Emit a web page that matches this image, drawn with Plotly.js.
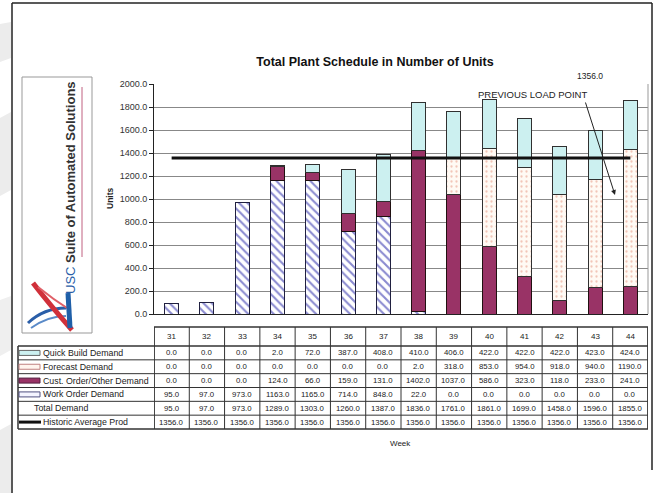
<!DOCTYPE html>
<html>
<head>
<meta charset="utf-8">
<script src="https://cdn.plot.ly/plotly-3.0.1.min.js"></script>
<style>
  html, body { margin: 0; padding: 0; background: #ffffff; }
  #chart { width: 663px; height: 493px; }
</style>
</head>
<body>
<div id="chart"></div>
<script>
// ---------------- data ----------------
const weeks = ['31','32','33','34','35','36','37','38','39','40','41','42','43','44'];
const quickBuild = [0, 0, 0, 2, 72, 387, 408, 410, 406, 422, 422, 422, 423, 424];
const forecast   = [0, 0, 0, 0, 0, 0, 0, 2, 318, 853, 954, 918, 940, 1190];
const custOrder  = [0, 0, 0, 124, 66, 159, 131, 1402, 1037, 586, 323, 118, 233, 241];
const workOrder  = [95, 97, 973, 1163, 1165, 714, 848, 22, 0, 0, 0, 0, 0, 0];
const totalDemand = [95, 97, 973, 1289, 1303, 1260, 1387, 1836, 1761, 1861, 1699, 1458, 1596, 1855];
const historicAvg = [1356, 1356, 1356, 1356, 1356, 1356, 1356, 1356, 1356, 1356, 1356, 1356, 1356, 1356];
const rowLabels = ['Quick Build Demand', 'Forecast Demand', 'Cust. Order/Other Demand', 'Work Order Demand', 'Total Demand', 'Historic Average Prod'];
const yTicks = [0, 200, 400, 600, 800, 1000, 1200, 1400, 1600, 1800, 2000];

// ---------------- geometry helpers ----------------
const L = 154, R = 648, T = 84, B = 314;
const px = v => (v - L) / (R - L);
const py = v => (B - v) / (B - T);
const FONT = 'Liberation Sans, Arial, sans-serif';
const nz = arr => arr.map(v => (v === 0 ? null : v));

const C_QB = '#ccf0f0', C_CO = '#993366', C_WO = '#8a8ad0', C_FC = '#f2c6b8';

const traces = [
  { type: 'bar', name: 'Work Order Demand', x: weeks, y: nz(workOrder),
    marker: { color: '#ffffff', line: { color: '#202040', width: 1 },
      pattern: { shape: '\\', fgcolor: C_WO, bgcolor: '#ffffff', size: 6, solidity: 0.35 } } },
  { type: 'bar', name: 'Cust. Order/Other Demand', x: weeks, y: nz(custOrder),
    marker: { color: C_CO, line: { color: '#201010', width: 1 } } },
  { type: 'bar', name: 'Forecast Demand', x: weeks, y: nz(forecast),
    marker: { color: '#fffaf4', line: { color: '#303030', width: 1 },
      pattern: { shape: '.', fgcolor: C_FC, bgcolor: '#fffaf4', size: 5, solidity: 0.16 } } },
  { type: 'bar', name: 'Quick Build Demand', x: weeks, y: nz(quickBuild),
    marker: { color: C_QB, line: { color: '#303030', width: 1 } } },
  { type: 'scatter', mode: 'lines', name: 'Historic Average Prod', x: weeks, y: historicAvg,
    line: { color: '#111111', width: 3 } }
];

const shapes = [];
const annotations = [];
const ann = o => annotations.push(Object.assign({ showarrow: false, xanchor: 'center', yanchor: 'middle' }, o));

// faint watermark on the far left
const poly = (pts, color) => shapes.push({ type: 'path', xref: 'paper', yref: 'paper', layer: 'below',
  path: 'M' + pts.map(p => px(p[0]).toFixed(4) + ',' + py(p[1]).toFixed(4)).join(' L') + ' Z', fillcolor: color, line: { width: 0 } });
poly([[0, 24], [11, 22], [11, 58], [0, 62]], '#ececec');
poly([[0, 118], [11, 112], [11, 190], [0, 196]], '#ececec');
poly([[0, 300], [11, 296], [11, 350], [0, 356]], '#efefef');
poly([[0, 430], [11, 424], [11, 493], [0, 493]], '#ececec');

// outer frame
shapes.push({ type: 'line', xref: 'paper', yref: 'paper', x0: px(12), x1: px(12), y0: py(3), y1: py(493), line: { color: '#222', width: 1.5 } });
shapes.push({ type: 'line', xref: 'paper', yref: 'paper', x0: px(12), x1: px(652), y0: py(3), y1: py(3), line: { color: '#222', width: 1.5 } });
shapes.push({ type: 'line', xref: 'paper', yref: 'paper', x0: px(652), x1: px(652), y0: py(3), y1: py(470), line: { color: '#222', width: 1.5 } });
// plot area right border
shapes.push({ type: 'line', xref: 'paper', yref: 'paper', x0: 1, x1: 1, y0: 0, y1: 1, line: { color: '#999', width: 1 } });

// ---------------- data table ----------------
const tTop = 327, hBot = 346, tBot = 429, labL = 18;
const rowH = (tBot - hBot) / rowLabels.length;
const rowTop = k => hBot + k * rowH;
const n = weeks.length;
const lineC = '#333';
shapes.push({ type: 'line', xref: 'x', yref: 'paper', x0: -0.5, x1: n - 0.5, y0: py(tTop), y1: py(tTop), line: { color: lineC, width: 1.5 } });
for (let k = 0; k <= rowLabels.length; k++) {
  shapes.push({ type: 'line', xref: 'paper', yref: 'paper', x0: px(labL), x1: 1, y0: py(rowTop(k)), y1: py(rowTop(k)),
    line: { color: lineC, width: (k === 0 || k === rowLabels.length) ? 1.5 : 1 } });
}
for (let i = 0; i <= n; i++) {
  shapes.push({ type: 'line', xref: 'x', yref: 'paper', x0: i - 0.5, x1: i - 0.5, y0: py(tTop), y1: py(tBot),
    line: { color: lineC, width: (i === 0 || i === n) ? 1.8 : 1 } });
}
shapes.push({ type: 'line', xref: 'paper', yref: 'paper', x0: px(labL), x1: px(labL), y0: py(hBot), y1: py(tBot), line: { color: lineC, width: 1.5 } });

weeks.forEach((w, i) => {
  ann({ xref: 'x', yref: 'paper', x: i, y: py((tTop + hBot) / 2), text: w, font: { family: FONT, size: 8, color: '#222' } });
});
const tableRows = [quickBuild, forecast, custOrder, workOrder, totalDemand, historicAvg];
tableRows.forEach((row, k) => {
  row.forEach((v, i) => {
    ann({ xref: 'x', yref: 'paper', x: i, y: py(rowTop(k) + rowH / 2), text: v.toFixed(1), font: { family: FONT, size: 7.8, color: '#222' } });
  });
  const indent = (k === 4) ? 32 : 41;
  ann({ xref: 'paper', yref: 'paper', x: px(indent), y: py(rowTop(k) + rowH / 2), xanchor: 'left', text: rowLabels[k],
    font: { family: FONT, size: 8.8, color: '#222' } });
});
const keyFill = [C_QB, '#fff4ee', C_CO, '#f4f4ff'];
const keyLine = ['#666', '#c08080', '#552040', '#505080'];
for (let k = 0; k < 4; k++) {
  const yc = rowTop(k) + rowH / 2;
  shapes.push({ type: 'rect', xref: 'paper', yref: 'paper', x0: px(19), x1: px(40), y0: py(yc - 2.5), y1: py(yc + 2.5),
    fillcolor: keyFill[k], line: { color: keyLine[k], width: 1 } });
}
shapes.push({ type: 'line', xref: 'paper', yref: 'paper', x0: px(19), x1: px(41), y0: py(rowTop(5) + rowH / 2), y1: py(rowTop(5) + rowH / 2),
  line: { color: '#111', width: 3 } });

// ---------------- logo ----------------
shapes.push({ type: 'rect', xref: 'paper', yref: 'paper', x0: px(22), x1: px(92), y0: py(77), y1: py(333), line: { color: '#999', width: 1 } });
shapes.push({ type: 'line', xref: 'paper', yref: 'paper', x0: px(82), x1: px(82), y0: py(87), y1: py(257), line: { color: '#c06080', width: 1 } });
ann({ xref: 'paper', yref: 'paper', x: px(70), y: py(188), textangle: -90,
  text: "<span style='color:#2a5ea8'>USC</span> <b>Suite of Automated Solutions</b>",
  font: { family: FONT, size: 13, color: '#333' } });
const P = (x, y) => px(x).toFixed(4) + ',' + py(y).toFixed(4);
const swoosh = (pts, color, w) => shapes.push({ type: 'path', xref: 'paper', yref: 'paper',
  path: 'M' + P(pts[0], pts[1]) + ' Q' + P(pts[2], pts[3]) + ' ' + P(pts[4], pts[5]), line: { color: color, width: w } });
swoosh([28, 323, 44, 308, 66, 308], '#2a5ea8', 3);
swoosh([31, 328, 48, 316, 66, 316], '#5a8ac8', 2);
swoosh([33, 283, 50, 305, 72, 330], '#d0303a', 5);
swoosh([38, 287, 54, 300, 70, 310], '#e06068', 2);
shapes.push({ type: 'line', xref: 'paper', yref: 'paper', x0: px(68), x1: px(70), y0: py(293), y1: py(328), line: { color: '#1f5fa8', width: 5 } });

// ---------------- text annotations ----------------
ann({ xref: 'paper', yref: 'paper', x: px(110), y: py(198), text: '<b>Units</b>', textangle: -90, font: { family: FONT, size: 8.5, color: '#222' } });
ann({ xref: 'paper', yref: 'paper', x: px(400), y: py(443), text: 'Week', font: { family: FONT, size: 8, color: '#222' } });
ann({ xref: 'paper', yref: 'paper', x: px(590), y: py(76), text: historicAvg[historicAvg.length - 1].toFixed(1), font: { family: FONT, size: 8.5, color: '#222' } });
ann({ xref: 'paper', yref: 'paper', x: px(532), y: py(95), text: 'PREVIOUS LOAD POINT', font: { family: FONT, size: 9.5, color: '#222' } });
annotations.push({ xref: 'paper', yref: 'paper', x: px(615), y: py(195), text: '', showarrow: true,
  axref: 'pixel', ayref: 'pixel', ax: -30, ay: -94, arrowhead: 2, arrowsize: 1, arrowwidth: 1, arrowcolor: '#222' });

const layout = {
  width: 663, height: 493,
  margin: { l: L, r: 663 - R, t: T, b: 493 - B, pad: 0 },
  paper_bgcolor: '#ffffff', plot_bgcolor: '#ffffff',
  showlegend: false,
  barmode: 'stack', bargap: 0.6,
  title: { text: '<b>Total Plant Schedule in Number of Units</b>', x: 375 / 663, xanchor: 'center', y: 1 - 62 / 493, yanchor: 'middle',
    font: { family: FONT, size: 12.5, color: '#111' } },
  xaxis: { type: 'category', range: [-0.5, weeks.length - 0.5], showticklabels: false, ticks: '', showgrid: false,
    showline: true, linecolor: '#222', linewidth: 1, zeroline: false, fixedrange: true },
  yaxis: { range: [0, 2000], tickvals: yTicks, ticktext: yTicks.map(v => v.toFixed(1)), ticks: 'outside', ticklen: 4, tickcolor: '#222',
    showline: true, linecolor: '#222', linewidth: 1, showgrid: true, gridcolor: '#888', gridwidth: 1, zeroline: false,
    tickfont: { family: FONT, size: 9, color: '#333' }, fixedrange: true },
  shapes: shapes,
  annotations: annotations
};

Plotly.newPlot('chart', traces, layout, { displayModeBar: false, staticPlot: true });
</script>
</body>
</html>
